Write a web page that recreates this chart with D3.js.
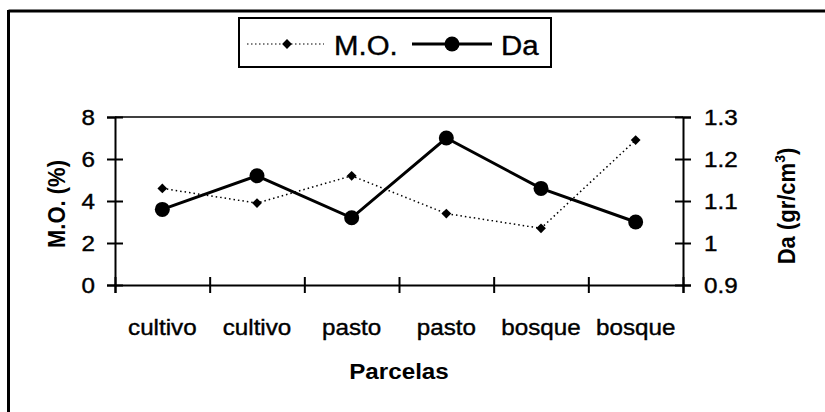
<!DOCTYPE html>
<html>
<head>
<meta charset="utf-8">
<script src="https://cdn.jsdelivr.net/npm/d3@7"></script>
<style>
  body { margin: 0; background: #fff; }
  svg { display: block; font-family: Arial, "Liberation Sans", sans-serif; }
  .heavy { stroke: #000; stroke-width: 0.4px; }
</style>
</head>
<body>
<svg id="chart" width="825" height="412"></svg>
<script>
var CATEGORIES = ["cultivo", "cultivo", "pasto", "pasto", "bosque", "bosque"];
var MO = [4.6, 3.9, 5.2, 3.4, 2.7, 6.9];
var DA = [1.08, 1.16, 1.06, 1.25, 1.13, 1.05];
var MO_TICKS = [0, 2, 4, 6, 8];
var DA_TICKS = [0.9, 1, 1.1, 1.2, 1.3];
var SERIES = ["M.O.", "Da"];

document.addEventListener("DOMContentLoaded", function() {
  drawChart();
})

function drawChart() {
  var svg = d3.select("#chart");
  var left = 115, right = 683, top = 117, bottom = 285;
  var sx = 1.1; // the scanned text is a bit wider than Arial
  var fs = 22;

  // outer frame (only top and left edges are visible)
  svg.append("line").attr("x1", 8.5).attr("x2", 825).attr("y1", 11).attr("y2", 11)
    .attr("stroke", "#000").attr("stroke-width", 3);
  svg.append("line").attr("x1", 8.5).attr("x2", 8.5).attr("y1", 10).attr("y2", 412)
    .attr("stroke", "#000").attr("stroke-width", 3);

  var x = d3.scaleBand().domain(d3.range(CATEGORIES.length)).range([left, right]);
  var xEdge = d3.scaleLinear().domain([0, CATEGORIES.length]).range([left, right]);
  var yL = d3.scaleLinear().domain([0, 8]).range([bottom, top]);
  var yR = d3.scaleLinear().domain([0.9, 1.3]).range([bottom, top]);

  // plot top border
  svg.append("line").attr("x1", left).attr("x2", right).attr("y1", top).attr("y2", top)
    .attr("stroke", "#000").attr("stroke-width", 1.5);

  // left axis
  var gl = svg.append("g").attr("transform", "translate(" + left + ",0)")
    .call(d3.axisLeft(yL).tickValues(MO_TICKS).tickSize(8).tickPadding(12).tickFormat(d3.format("d")));
  gl.selectAll(".tick line").attr("x1", 8);
  gl.selectAll(".tick text").attr("font-size", fs).attr("font-family", "Arial, 'Liberation Sans', sans-serif")
    .attr("class", "heavy").attr("x", -20 / sx).attr("transform", "scale(" + sx + ",1)");

  // right axis
  var gr = svg.append("g").attr("transform", "translate(" + right + ",0)")
    .call(d3.axisRight(yR).tickValues(DA_TICKS).tickSize(8).tickPadding(12).tickFormat(function(d) { return d3.format("")(+d.toFixed(1)); }));
  gr.selectAll(".tick line").attr("x1", -8);
  gr.selectAll(".tick text").attr("font-size", fs).attr("font-family", "Arial, 'Liberation Sans', sans-serif")
    .attr("class", "heavy").attr("x", 21 / sx).attr("transform", "scale(" + sx + ",1)");

  // bottom axis: ticks at category edges, labels at centres
  var gb = svg.append("g").attr("transform", "translate(0," + bottom + ")")
    .call(d3.axisBottom(xEdge).ticks(CATEGORIES.length).tickSize(8).tickFormat(""));
  gb.selectAll(".tick line").attr("y1", -8);
  var gx = svg.append("g").attr("transform", "translate(0," + bottom + ")")
    .call(d3.axisBottom(x).tickSize(0).tickPadding(50).tickFormat(function(i) { return CATEGORIES[i]; }));
  gx.select(".domain").remove();
  gx.selectAll(".tick text").attr("font-size", fs).attr("font-family", "Arial, 'Liberation Sans', sans-serif")
    .attr("class", "heavy").attr("dy", 0).attr("transform", "scale(" + sx + ",1)");
  gx.selectAll(".tick").attr("transform", function(i) { return "translate(" + (x(i) + x.bandwidth() / 2) + ",0)"; });

  svg.selectAll(".domain").attr("stroke-width", 2);
  svg.selectAll(".tick line").attr("stroke-width", 2);

  // axis titles
  svg.append("text").attr("transform", "translate(399,379) scale(" + sx + ",1)")
    .attr("text-anchor", "middle").attr("font-size", 22).attr("font-weight", "bold").text("Parcelas");
  svg.append("text").attr("transform", "translate(65,204) rotate(-90) scale(1," + sx + ")")
    .attr("text-anchor", "middle").attr("font-size", 22).attr("font-weight", "bold").text("M.O. (%)");
  var t = svg.append("text").attr("transform", "translate(795,206) rotate(-90) scale(1," + sx + ")")
    .attr("text-anchor", "middle").attr("font-size", 22).attr("font-weight", "bold");
  t.append("tspan").text("Da (gr/cm");
  t.append("tspan").attr("font-size", 14).attr("dy", -9).text("3");
  t.append("tspan").attr("dy", 9).text(")");

  var diamond = d3.symbol().type(d3.symbolSquare).size(48);

  // M.O. series: dotted line with diamonds
  var lineL = d3.line().x(function(d, i) { return x(i) + x.bandwidth() / 2; }).y(function(d) { return yL(d); });
  svg.append("path").datum(MO).attr("d", lineL).attr("fill", "none")
    .attr("stroke", "#000").attr("stroke-width", 1.5).attr("stroke-dasharray", "1.5,3");
  svg.selectAll(".mo").data(MO).enter().append("path").attr("class", "mo")
    .attr("d", diamond)
    .attr("transform", function(d, i) { return "translate(" + (x(i) + x.bandwidth() / 2) + "," + yL(d) + ") rotate(45)"; });

  // Da series: solid line with circles
  var lineR = d3.line().x(function(d, i) { return x(i) + x.bandwidth() / 2; }).y(function(d) { return yR(d); });
  svg.append("path").datum(DA).attr("d", lineR).attr("fill", "none")
    .attr("stroke", "#000").attr("stroke-width", 3);
  svg.selectAll(".da").data(DA).enter().append("circle").attr("class", "da")
    .attr("cx", function(d, i) { return x(i) + x.bandwidth() / 2; })
    .attr("cy", function(d) { return yR(d); }).attr("r", 7.5);

  // legend
  var lg = svg.append("g");
  lg.append("rect").attr("x", 239).attr("y", 18).attr("width", 312).attr("height", 49)
    .attr("fill", "#fff").attr("stroke", "#000").attr("stroke-width", 2);
  lg.append("line").attr("x1", 247).attr("x2", 324).attr("y1", 44).attr("y2", 44)
    .attr("stroke", "#000").attr("stroke-width", 1.2).attr("stroke-dasharray", "1.5,2.5");
  lg.append("path").attr("d", diamond).attr("transform", "translate(287,44) rotate(45)");
  lg.append("text").attr("class", "heavy").attr("transform", "translate(334,55) scale(1.05,1)").attr("font-size", 28).text(SERIES[0]);
  lg.append("line").attr("x1", 412).attr("x2", 492).attr("y1", 44).attr("y2", 44)
    .attr("stroke", "#000").attr("stroke-width", 3);
  lg.append("circle").attr("cx", 452).attr("cy", 44).attr("r", 7.5);
  lg.append("text").attr("class", "heavy").attr("transform", "translate(501,55) scale(1.05,1)").attr("font-size", 28).text(SERIES[1]);
}
</script>
</body>
</html>
